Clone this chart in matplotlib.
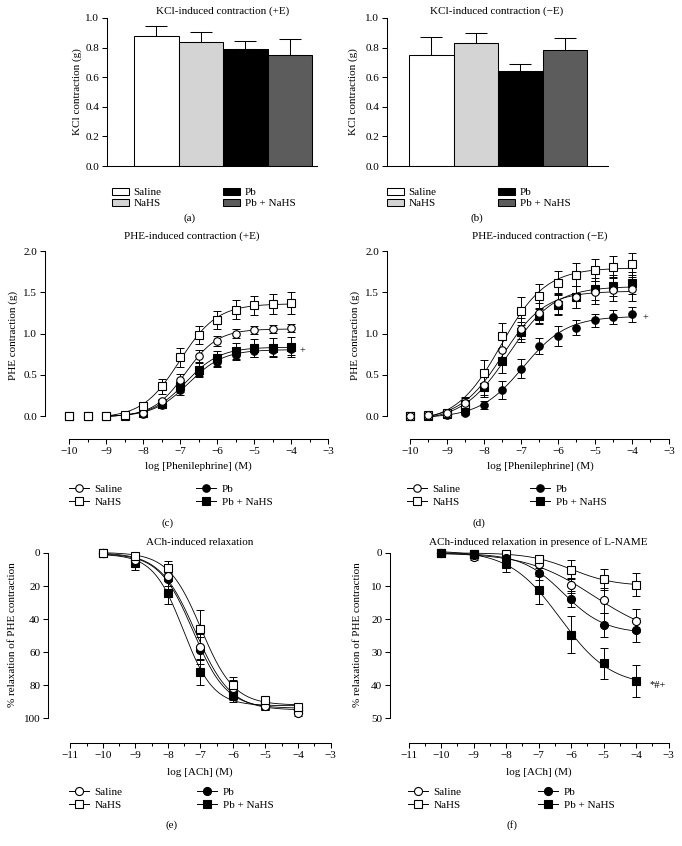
import numpy as np
import matplotlib
matplotlib.use('Agg')
import matplotlib.pyplot as plt
from matplotlib.patches import Patch
from matplotlib.lines import Line2D
from matplotlib.ticker import FixedLocator

plt.rcParams['font.family'] = ['Liberation Serif', 'DejaVu Serif']
plt.rcParams['font.size'] = 8

W, H, DPI = 682, 846, 100

groups = ['Saline', 'NaHS', 'Pb', 'Pb + NaHS']
bar_colors = ['#ffffff', '#d4d4d4', '#000000', '#5c5c5c']

# (a) KCl-induced contraction (+E)
kcl_pos_mean = [0.880, 0.837, 0.792, 0.751]
kcl_pos_err = [0.063, 0.068, 0.054, 0.104]
# (b) KCl-induced contraction (-E)
kcl_neg_mean = [0.749, 0.830, 0.643, 0.781]
kcl_neg_err = [0.120, 0.066, 0.049, 0.081]

# (c) PHE-induced contraction (+E)
phe_x = [-10, -9.5, -9, -8.5, -8, -7.5, -7, -6.5, -6, -5.5, -5, -4.5, -4]
c_saline = [0, 0, 0, 0.005, 0.04, 0.18, 0.44, 0.73, 0.91, 1.00, 1.04, 1.055, 1.065]
c_saline_err = [0, 0, 0, 0.01, 0.02, 0.03, 0.07, 0.07, 0.06, 0.05, 0.05, 0.05, 0.05]
c_nahs = [0, 0, 0, 0.01, 0.12, 0.36, 0.71, 0.98, 1.16, 1.29, 1.34, 1.36, 1.37]
c_nahs_err = [0, 0, 0, 0.01, 0.03, 0.09, 0.11, 0.11, 0.11, 0.12, 0.12, 0.12, 0.13]
c_pb = [0, 0, 0, 0.005, 0.03, 0.13, 0.31, 0.52, 0.66, 0.74, 0.79, 0.80, 0.81]
c_pb_err = [0, 0, 0, 0.01, 0.02, 0.03, 0.05, 0.05, 0.06, 0.06, 0.07, 0.07, 0.07]
c_pbnahs = [0, 0, 0, 0.005, 0.04, 0.14, 0.36, 0.56, 0.70, 0.79, 0.82, 0.83, 0.84]
c_pbnahs_err = [0, 0, 0, 0.01, 0.02, 0.03, 0.07, 0.08, 0.09, 0.10, 0.11, 0.11, 0.12]

# (d) PHE-induced contraction (-E)
d_saline = [0, 0.01, 0.04, 0.16, 0.38, 0.80, 1.06, 1.25, 1.365, 1.445, 1.50, 1.53, 1.54]
d_saline_err = [0, 0.01, 0.02, 0.06, 0.12, 0.13, 0.13, 0.12, 0.13, 0.13, 0.14, 0.14, 0.14]
d_nahs = [0, 0.01, 0.04, 0.15, 0.52, 0.97, 1.27, 1.45, 1.615, 1.71, 1.77, 1.81, 1.84]
d_nahs_err = [0, 0.01, 0.02, 0.08, 0.16, 0.16, 0.17, 0.15, 0.14, 0.14, 0.13, 0.13, 0.13]
d_pb = [0, 0.0, 0.01, 0.04, 0.13, 0.32, 0.575, 0.85, 0.97, 1.07, 1.16, 1.20, 1.235]
d_pb_err = [0, 0.01, 0.01, 0.03, 0.05, 0.11, 0.12, 0.10, 0.12, 0.09, 0.08, 0.09, 0.09]
d_pbnahs = [0, 0.0, 0.02, 0.08, 0.35, 0.67, 1.02, 1.21, 1.345, 1.44, 1.54, 1.58, 1.61]
d_pbnahs_err = [0, 0.01, 0.02, 0.05, 0.12, 0.15, 0.12, 0.10, 0.12, 0.13, 0.13, 0.13, 0.13]

# (e) ACh-induced relaxation
ach_x = [-10, -9, -8, -7, -6, -5, -4]
e_saline = [0, 4.5, 14, 57, 82, 93, 97]
e_saline_err = [0, 3, 3, 8, 5, 2, 1.5]
e_nahs = [0, 2, 9, 46, 80, 89, 93.5]
e_nahs_err = [0, 2, 4, 11.5, 5, 2, 1.5]
e_pb = [0, 5, 16, 59, 84, 93, 95]
e_pb_err = [0, 3, 4, 8, 5, 2, 1.5]
e_pbnahs = [0, 6, 24, 72, 86, 92, 95]
e_pbnahs_err = [0, 4.5, 7, 8, 4, 2, 1.5]

# (f) ACh-induced relaxation in presence of L-NAME
f_saline = [0, 1.3, 1.5, 3.3, 9.8, 14.3, 20.5]
f_saline_err = [0, 0.8, 0.8, 1.2, 2.2, 3.8, 3.5]
f_nahs = [0, 0.2, 0.2, 1.7, 5.0, 8.0, 9.6]
f_nahs_err = [0, 0.5, 0.5, 0.8, 2.8, 3.3, 3.5]
f_pb = [0, 0.5, 1.5, 6.0, 13.9, 21.9, 23.3]
f_pb_err = [0, 0.8, 1.5, 2.2, 2.4, 3.7, 3.6]
f_pbnahs = [0, 0.3, 3.3, 11.3, 24.7, 33.4, 38.8]
f_pbnahs_err = [0, 0.6, 2.4, 4.3, 5.6, 4.7, 4.8]


def fit4pl(x, y):
    """Least-squares 4-parameter logistic fit (grid over EC50/Hill, linear in bottom/top)."""
    x = np.asarray(x, float)
    y = np.asarray(y, float)
    ec = np.linspace(-10.5, -3.0, 751)
    hs = np.linspace(0.3, 3.0, 136)
    S = 1.0 / (1.0 + 10.0 ** ((ec[:, None, None] - x[None, None, :]) * hs[None, :, None]))
    A1 = 1 - S
    A2 = S
    a11 = (A1 * A1).sum(-1); a12 = (A1 * A2).sum(-1); a22 = (A2 * A2).sum(-1)
    r1 = (A1 * y).sum(-1); r2 = (A2 * y).sum(-1)
    det = a11 * a22 - a12 ** 2
    det = np.where(np.abs(det) < 1e-12, np.nan, det)
    b = (a22 * r1 - a12 * r2) / det
    t = (a11 * r2 - a12 * r1) / det
    sse = ((b[..., None] * A1 + t[..., None] * A2 - y) ** 2).sum(-1)
    i, j = np.unravel_index(np.nanargmin(sse), sse.shape)
    B, T, E, Hh = b[i, j], t[i, j], ec[i], hs[j]
    return lambda xx: B + (T - B) / (1.0 + 10.0 ** ((E - xx) * Hh))


fig = plt.figure(figsize=(W / DPI, H / DPI), dpi=DPI)


def px_axes(left, top, right, bottom):
    return fig.add_axes([left / W, 1 - bottom / H, (right - left) / W, (bottom - top) / H])


def ftext(x, y, s, **kw):
    kw.setdefault('ha', 'center')
    kw.setdefault('va', 'center')
    fig.text(x / W, 1 - y / H, s, **kw)


LW = 0.75
TICKLEN = 3.6

# ---------- Bar panels ----------
def bar_panel(box, means, errs, xlim, title, title_xy, ylabel_x):
    ax = px_axes(*box)
    pos = np.arange(len(groups))
    ax.bar(pos, means, width=1.0, color=bar_colors, edgecolor='black', linewidth=LW, zorder=2)
    ax.errorbar(pos, means, yerr=[np.zeros(len(errs)), errs], fmt='none', ecolor='black',
                elinewidth=LW, capsize=8, capthick=LW, zorder=1)
    ax.set_xlim(*xlim)
    ax.set_ylim(0, 1.0)
    ticks = np.arange(0, 1.01, 0.2)
    ax.set_yticks(ticks)
    ax.set_yticklabels([f'{v:.1f}' for v in ticks])
    ax.set_xticks([])
    for s in ['top', 'right']:
        ax.spines[s].set_visible(False)
    for s in ['left', 'bottom']:
        ax.spines[s].set_linewidth(LW)
    ax.tick_params(axis='y', direction='out', length=TICKLEN, width=LW, pad=2)
    ftext(*title_xy, title)
    ftext(ylabel_x, 92, 'KCl contraction (g)', rotation=90)
    return ax

bar_panel((107, 18, 317, 166), kcl_pos_mean, kcl_pos_err, (-1.107, 3.61),
          'KCl-induced contraction (+E)', (223, 11), 77)
bar_panel((387, 18, 608, 166), kcl_neg_mean, kcl_neg_err, (-0.994, 3.97),
          'KCl-induced contraction (\u2212E)', (497, 11), 353)


def bar_legend(x1, x2, yc):
    hs = [Patch(facecolor=bar_colors[i], edgecolor='black', linewidth=LW) for i in range(4)]
    for xs, idx in ((x1, (0, 1)), (x2, (2, 3))):
        fig.legend([hs[i] for i in idx], [groups[i] for i in idx], loc='center left',
                   bbox_to_anchor=(xs / W, 1 - yc / H), frameon=False, borderpad=0,
                   borderaxespad=0, handlelength=1.5, handleheight=0.7,
                   handletextpad=0.45, labelspacing=0.1)

bar_legend(112, 223, 198)
bar_legend(387, 498, 198)
ftext(190, 218, '(a)')
ftext(477, 218, '(b)')

# ---------- Curve panels ----------
styles = {
    'Saline': dict(marker='o', mfc='white'),
    'NaHS': dict(marker='s', mfc='white'),
    'Pb': dict(marker='o', mfc='black'),
    'Pb + NaHS': dict(marker='s', mfc='black'),
}
MS = 5.4


def curve_panel(box, x, series, xlim, ylim, yticks, ytl, xbounds, out_px, curve_from,
                cap, ms=MS):
    ax = px_axes(*box)
    xx = np.linspace(curve_from, max(x), 300)
    for name, (y, e) in series:
        st = styles[name]
        f = fit4pl(x, y)
        ax.plot(xx, f(xx), color='black', lw=0.6, zorder=2, clip_on=False)
        ax.errorbar(x, y, yerr=e, fmt='none', ecolor='black', elinewidth=0.7,
                    capsize=cap, capthick=0.7, zorder=3, clip_on=False)
        ax.plot(x, y, linestyle='none', marker=st['marker'], mfc=st['mfc'], mec='black',
                mew=0.8, ms=ms, zorder=4, clip_on=False)
    ax.set_xlim(*xlim)
    ax.set_ylim(*ylim)
    ax.set_yticks(yticks)
    ax.set_yticklabels(ytl)
    majors = np.arange(xbounds[0], xbounds[1] + 0.1, 1)
    ax.xaxis.set_major_locator(FixedLocator(majors))
    ax.xaxis.set_minor_locator(FixedLocator(np.arange(xbounds[0] + 0.5, xbounds[1], 1)))
    ax.set_xticklabels([f'\u2212{abs(int(v))}' for v in majors])
    for s in ['top', 'right']:
        ax.spines[s].set_visible(False)
    ax.spines['left'].set_linewidth(LW)
    ax.spines['bottom'].set_linewidth(LW)
    ax.spines['bottom'].set_position(('outward', out_px * 72 / DPI))
    ax.spines['bottom'].set_bounds(*xbounds)
    ax.spines['left'].set_bounds(min(ylim), max(ylim))
    ax.tick_params(axis='both', which='major', direction='out', length=TICKLEN, width=LW, pad=2)
    ax.tick_params(axis='x', which='minor', direction='out', length=2, width=LW)
    ax.patch.set_visible(False)
    return ax


def curve_legend(x1, x2, yc, ms=MS):
    hs = []
    for g in groups:
        st = styles[g]
        hs.append(Line2D([], [], color='black', lw=0.7, marker=st['marker'], mfc=st['mfc'],
                         mec='black', mew=0.8, ms=ms))
    for xs, idx in ((x1, (0, 1)), (x2, (2, 3))):
        fig.legend([hs[i] for i in idx], [groups[i] for i in idx], loc='center left',
                   bbox_to_anchor=(xs / W, 1 - yc / H), frameon=False, borderpad=0,
                   borderaxespad=0, handlelength=1.8, handletextpad=0.5, labelspacing=0.3)


phe_ticks = [0, 0.5, 1.0, 1.5, 2.0]
phe_tl = ['0.0', '0.5', '1.0', '1.5', '2.0']

axc = curve_panel((45, 251, 328, 416), phe_x,
                  [('Pb', (c_pb, c_pb_err)), ('Pb + NaHS', (c_pbnahs, c_pbnahs_err)),
                   ('Saline', (c_saline, c_saline_err)), ('NaHS', (c_nahs, c_nahs_err))],
                  (-10.65, -3), (0, 2), phe_ticks, phe_tl, (-10, -3), 23, -9, 2.6)
axc.text(-3.68, 0.79, '+', ha='center', va='center', fontsize=7.5)
ftext(192, 236, 'PHE-induced contraction (+E)')
ftext(13, 335, 'PHE contraction (g)', rotation=90)
ftext(198, 466, 'log [Phenilephrine] (M)')

axd = curve_panel((387, 251, 669, 416), phe_x,
                  [('Pb', (d_pb, d_pb_err)), ('Pb + NaHS', (d_pbnahs, d_pbnahs_err)),
                   ('NaHS', (d_nahs, d_nahs_err)), ('Saline', (d_saline, d_saline_err))],
                  (-10.62, -3), (0, 2), phe_ticks, phe_tl, (-10, -3), 23, -9.5, 2.8)
axd.text(-3.65, 1.19, '+', ha='center', va='center', fontsize=7.5)
ftext(540, 236, 'PHE-induced contraction (\u2212E)')
ftext(355, 335, 'PHE contraction (g)', rotation=90)
ftext(540, 466, 'log [Phenilephrine] (M)')

curve_legend(69, 196, 495.5)
curve_legend(407, 530, 495.5)
ftext(168, 523, '(c)')
ftext(479, 523, '(d)')

axe = curve_panel((48, 553, 330.5, 718), ach_x,
                  [('Pb', (e_pb, e_pb_err)), ('Pb + NaHS', (e_pbnahs, e_pbnahs_err)),
                   ('Saline', (e_saline, e_saline_err)), ('NaHS', (e_nahs, e_nahs_err))],
                  (-11.69, -3), (100, 0), [0, 20, 40, 60, 80, 100],
                  ['0', '20', '40', '60', '80', '100'], (-11, -3), 25, -10, 2.8, ms=5.8)
ftext(200, 542, 'ACh-induced relaxation')
ftext(13, 635, '% relaxation of PHE contraction', rotation=90)
ftext(200, 772, 'log [ACh] (M)')

axf = curve_panel((390, 553, 668.5, 718), ach_x,
                  [('Saline', (f_saline, f_saline_err)), ('NaHS', (f_nahs, f_nahs_err)),
                   ('Pb', (f_pb, f_pb_err)), ('Pb + NaHS', (f_pbnahs, f_pbnahs_err))],
                  (-11.57, -3), (50, 0), [0, 10, 20, 30, 40, 50],
                  ['0', '10', '20', '30', '40', '50'], (-11, -3), 25, -10, 2.8, ms=5.8)
axf.text(-3.32, 40, '*#+', ha='center', va='center', fontsize=7.5)
ftext(538, 542, 'ACh-induced relaxation in presence of L-NAME')
ftext(357, 635, '% relaxation of PHE contraction', rotation=90)
ftext(539, 772, 'log [ACh] (M)')

curve_legend(69, 197, 798.5, ms=5.8)
curve_legend(408, 538, 798.5, ms=5.8)
ftext(172, 825, '(e)')
ftext(512, 825, '(f)')

fig.savefig('out.png', dpi=DPI, facecolor='white')
